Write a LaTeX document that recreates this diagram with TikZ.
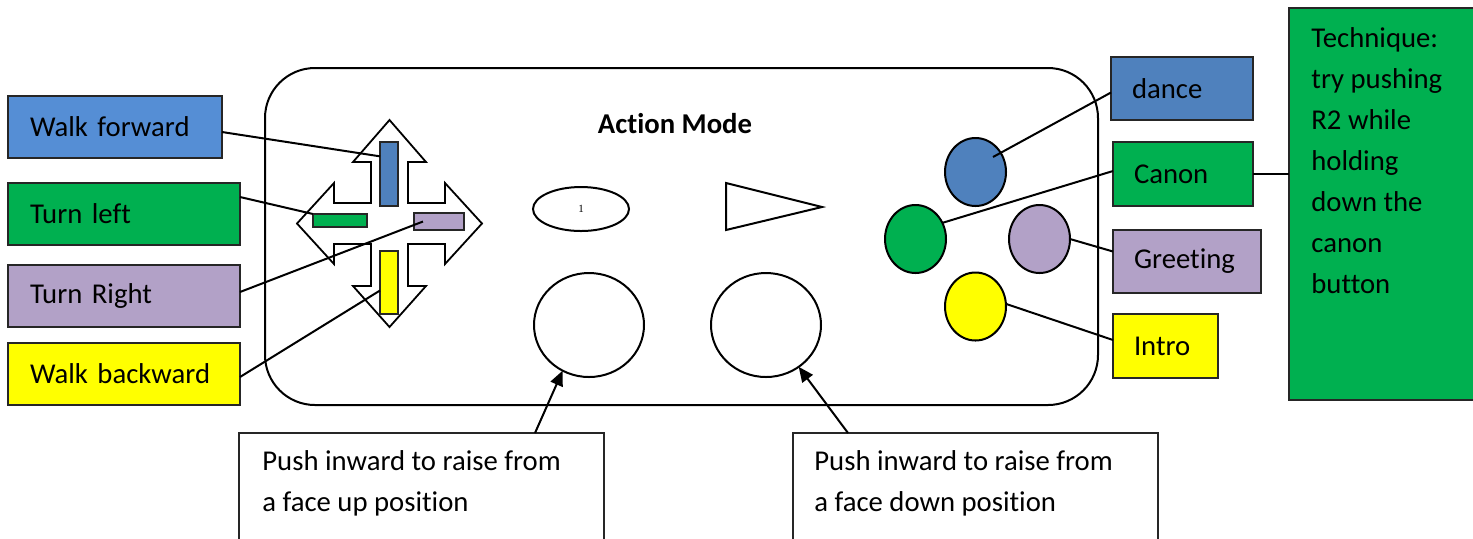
\documentclass[tikz,border=0pt]{standalone}
\usepackage{fontspec}
\setmainfont[Ligatures={NoCommon}]{Carlito}
\newfontfamily\onefont{Liberation Serif}
\usetikzlibrary{arrows.meta,shapes.geometric,calc}
\definecolor{wfblue}{HTML}{558ED5}
\definecolor{dblue}{HTML}{4F81BD}
\definecolor{mgreen}{HTML}{00B050}
\definecolor{mpurple}{HTML}{B2A1C7}
\definecolor{myellow}{HTML}{FFFF00}
\newcommand\lblfont{\fontsize{14.35pt}{20.5pt}\selectfont}
\begin{document}
\begin{tikzpicture}[x=0.5pt,y=-0.5pt,
  box/.style={draw=black!85, line width=1pt, anchor=north west, inner xsep=11pt, inner ysep=0pt, outer sep=0pt, align=left, font=\lblfont, text=black},
  rbox/.style={box, inner xsep=10.5pt},
  plainbox/.style={draw=black!85, line width=1pt, anchor=north west, inner sep=0pt, outer sep=0pt},
  bar/.style={draw=black!85, line width=0.8pt, anchor=north west, inner sep=0pt, outer sep=0pt},
  btn/.style={ellipse, draw=black, line width=1pt, inner sep=0pt, outer sep=0pt},
  conn/.style={draw=black, line width=1pt},
  arr/.style={conn, -{Triangle[length=7.5pt,width=6.5pt]}},
  txt/.style={font=\lblfont, align=left, inner sep=0pt, anchor=base west}
]
\useasboundingbox (0,0) rectangle (1473,538);
\fill[white] (0,0) rectangle (1473,538);

% main controller body
\draw[line width=1pt, rounded corners=25pt] (265,68) rectangle (1098,405);
\node[font=\lblfont\bfseries, inner sep=0pt, anchor=base] (title) at (675,133) {Action Mode};

% d-pad cross
\draw[line width=0.9pt, fill=white]
  (389.5,120) -- (426,162) -- (408,162) -- (408,203) -- (445,203) -- (445,183)
  -- (482,223.5) -- (445,264) -- (445,244) -- (408,244) -- (408,286) -- (426,286)
  -- (389.5,327) -- (353,286) -- (371,286) -- (371,244) -- (334,244) -- (334,264)
  -- (297,223.5) -- (334,183) -- (334,203) -- (371,203) -- (371,162) -- (353,162) -- cycle;
\node[bar, fill=dblue, minimum width=9pt, minimum height=32pt] (bb) at (380,142) {};
\node[bar, fill=mgreen, minimum width=27pt, minimum height=6.5pt] (gb) at (313,214) {};
\node[bar, fill=mpurple, minimum width=25pt, minimum height=8.5pt] (pb) at (414,213) {};
\node[bar, fill=myellow, minimum width=9pt, minimum height=31.5pt] (yb) at (380,251) {};

% select / start
\node[btn, minimum width=48pt, minimum height=22pt, font=\onefont\fontsize{5.5pt}{6pt}\selectfont] (sel) at (581,209) {1};
\draw[line width=1pt] (726,183) -- (726,230) -- (822,207) -- cycle;

% sticks
\node[btn, minimum width=55pt, minimum height=52pt] (s1) at (589,325) {};
\node[btn, minimum width=55pt, minimum height=52pt] (s2) at (766,325) {};

% face buttons
\node[btn, fill=dblue, minimum width=30.5pt, minimum height=34pt] (bc) at (975.5,172) {};
\node[btn, fill=mgreen, minimum width=30.5pt, minimum height=34pt] (gc) at (915.5,239) {};
\node[btn, fill=mpurple, minimum width=30.5pt, minimum height=34pt] (pc) at (1039.5,239) {};
\node[btn, fill=myellow, minimum width=30.5pt, minimum height=34pt] (yc) at (975.5,306.5) {};

% left labels
\node[box, fill=wfblue, text width=85pt, minimum height=31pt] (wf) at (8,96) {Walk forward};
\node[box, fill=mgreen, text width=94pt, minimum height=31pt] (tl) at (8,183) {Turn left};
\node[box, fill=mpurple, text width=94pt, minimum height=31pt] (tr) at (8,265) {Turn Right};
\node[box, fill=myellow, text width=94pt, minimum height=31pt] (wb) at (8,343) {Walk backward};

% right labels
\node[rbox, fill=dblue, text width=50pt, minimum height=31.5pt] (dance) at (1111,57) {dance};
\node[rbox, fill=mgreen, text width=49pt, minimum height=32pt] (canon) at (1113,142) {Canon};
\node[rbox, fill=mpurple, text width=53pt, minimum height=31.5pt] (greet) at (1113,230) {Greeting};
\node[rbox, fill=myellow, text width=31.5pt, minimum height=32pt] (intro) at (1113,314) {Intro};

% technique box
\node[plainbox, fill=mgreen, minimum width=100pt, minimum height=196pt] (tech) at (1289,8) {};
\node[txt] (techtxt) at (1311,293) {Technique:\\try pushing\\R2 while\\holding\\down the\\canon\\button};

% bottom boxes
\node[plainbox, fill=white, minimum width=182.5pt, minimum height=70pt] (push1) at (239,433) {};
\node[txt] (push1txt) at (262,511) {Push inward to raise from\\a face up position};
\node[plainbox, fill=white, minimum width=182.5pt, minimum height=70pt] (push2) at (793,433) {};
\node[txt] (push2txt) at (814,511) {Push inward to raise from\\a face down position};

% connectors
\draw[conn] ([yshift=-2.5pt]wf.east) -- (bb.117);
\draw[conn] ([yshift=8.5pt]tl.east) -- (gb.north west);
\draw[conn] ([yshift=2pt]tr.east) -- ([xshift=-8pt]pb.center);
\draw[conn] ([yshift=-1.5pt]wb.east) -- ([yshift=-4pt]yb.west);
\draw[conn] ([yshift=-2pt]dance.west) -- ([shift={(8.75pt,7.5pt)}]bc.center);
\draw[conn] ([yshift=1.5pt]canon.west) -- (gc.31);
\draw[conn] ([yshift=5pt]greet.west) -- (pc.east);
\draw[conn] ([yshift=3pt]intro.west) -- (yc.5);
\draw[conn] (canon.east) -- (canon.east -| tech.west);
\draw[arr] ([xshift=148pt]push1.north west) -- (s1.240);
\draw[arr] ([xshift=27.5pt]push2.north west) -- (s2.308);
\end{tikzpicture}
\end{document}
